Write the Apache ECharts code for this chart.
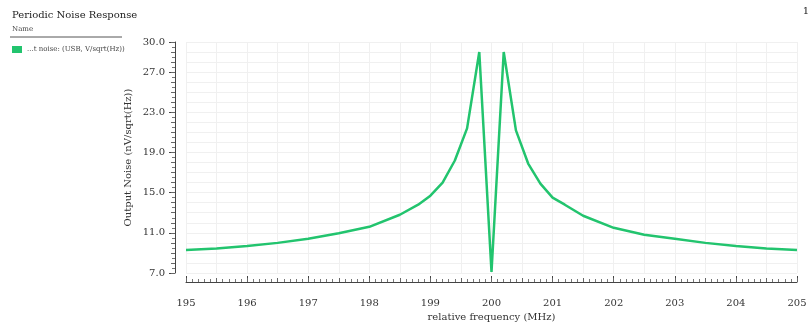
<!DOCTYPE html>
<html>
<head>
<meta charset="utf-8">
<script src="https://cdn.jsdelivr.net/npm/echarts@6/dist/echarts.min.js"></script>
<style>
  html, body { margin: 0; padding: 0; background: #fff; }
  #chart { width: 812px; height: 323px; }
</style>
</head>
<body>
<div id="chart"></div>
<script>
// relative frequency (MHz) and output noise (nV/sqrt(Hz))
const freqs = [195, 195.5, 196, 196.5, 197, 197.5, 198, 198.5, 198.8, 199, 199.2, 199.4, 199.6, 199.8,
  200, 200.2, 200.4, 200.6, 200.8, 201, 201.2, 201.5, 202, 202.5, 203, 203.5, 204, 204.5, 205];
const noise = [9.28, 9.45, 9.7, 10.0, 10.4, 10.95, 11.6, 12.8, 13.8, 14.7, 16.0, 18.2, 21.4, 29.0,
  7.1, 29.0, 21.2, 17.9, 15.9, 14.5, 13.8, 12.7, 11.5, 10.8, 10.4, 10.0, 9.7, 9.45, 9.28];
const seriesName = "...t noise: (USB, V/sqrt(Hz))";

const font = "'DejaVu Serif', 'Liberation Serif', serif";
const ink = "#333";
const faint = "#f0f0f0";
const green = "#22c46e";

const chart = echarts.init(document.getElementById("chart"), null, { renderer: "canvas" });

const yBase = { type: "value", min: 7, max: 30, position: "left", offset: 11 };
const xBase = { type: "value", min: 195, max: 205, position: "bottom", offset: 9 };

chart.setOption({
  animation: false,
  title: {
    text: "Periodic Noise Response",
    left: 7, top: 5,
    textStyle: { fontFamily: font, fontSize: 10, fontWeight: "normal", color: "#222" },
  },
  graphic: [
    { type: "text", left: 12, top: 26, style: { text: "Name", font: "7px " + font, fill: "#444" } },
    { type: "line", shape: { x1: 10, y1: 37, x2: 122, y2: 37 }, style: { stroke: "#555", lineWidth: 1 } },
    { type: "text", right: 3, top: 6, style: { text: "1", font: "10px " + font, fill: "#222" } },
  ],
  legend: {
    left: 7, top: 41, orient: "vertical",
    icon: "rect", itemWidth: 10, itemHeight: 7, itemGap: 4,
    textStyle: { fontFamily: font, fontSize: 7, color: "#444" },
    data: [seriesName],
  },
  grid: { left: 186, right: 15, top: 42, bottom: 50, outerBoundsMode: "none", containLabel: false },
  xAxis: [
    {
      ...xBase, interval: 1,
      name: "relative frequency (MHz)", nameLocation: "middle", nameGap: 28,
      nameTextStyle: { fontFamily: font, fontSize: 10, color: ink },
      axisLine: { show: true, lineStyle: { color: "#444" } },
      axisTick: { show: true, inside: true, length: 6, lineStyle: { color: "#444" } },
      axisLabel: { fontFamily: font, fontSize: 10, color: ink, margin: 16 },
      splitLine: { show: false },
    },
    {
      ...xBase, interval: 0.5,
      axisLine: { show: false },
      axisTick: { show: true, inside: true, length: 4, lineStyle: { color: "#666" } },
      minorTick: { show: true, splitNumber: 5, length: 3, lineStyle: { color: "#777" } },
      axisLabel: { show: false },
      splitLine: { show: true, lineStyle: { color: faint, width: 1 } },
    },
  ],
  yAxis: [
    {
      ...yBase, interval: 4,
      name: "Output Noise (nV/sqrt(Hz))", nameLocation: "middle", nameGap: 42, nameMoveOverlap: false,
      nameTextStyle: { fontFamily: font, fontSize: 10, color: ink },
      axisLine: { show: true, lineStyle: { color: "#444" } },
      axisTick: { show: true, length: 6, lineStyle: { color: "#444" } },
      axisLabel: { fontFamily: font, fontSize: 10, color: ink, margin: 10, formatter: (v) => v.toFixed(1) },
      splitLine: { show: false },
    },
    {
      ...yBase, interval: 1,
      axisLine: { show: false },
      axisTick: { show: true, length: 4, lineStyle: { color: "#666" } },
      minorTick: { show: true, splitNumber: 2, length: 3, lineStyle: { color: "#777" } },
      axisLabel: { show: false },
      splitLine: { show: true, lineStyle: { color: faint, width: 1 } },
    },
  ],
  series: [
    {
      name: seriesName,
      type: "line",
      xAxisIndex: 0, yAxisIndex: 0,
      data: freqs.map((f, i) => [f, noise[i]]),
      showSymbol: false,
      smooth: false,
      itemStyle: { color: green },
      lineStyle: { color: green, width: 2.5 },
    },
  ],
});
</script>
</body>
</html>
